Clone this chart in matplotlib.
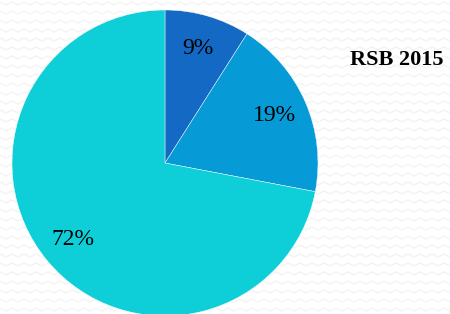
import matplotlib.pyplot as plt
import numpy as np

labels = ["a", "b", "c"]
values = [9, 19, 72]
colors = ["#1469c4", "#069bd6", "#0ecfd8"]
title = "RSB 2015"

plt.rcParams["font.family"] = ["Liberation Serif", "DejaVu Serif"]

fig = plt.figure(figsize=(4.5, 3.14), dpi=100)
fig.patch.set_facecolor("white")

# faint zigzag background
bg = fig.add_axes([0, 0, 1, 1], zorder=0)
bg.set_xlim(0, 450)
bg.set_ylim(314, 0)
bg.axis("off")
xs = np.arange(0, 456, 6)
for row in np.arange(2, 320, 9):
    ys = row + np.where((xs // 6) % 2 == 0, 0, 3)
    bg.plot(xs, ys, color="#f4f4f4", lw=1.1)

# pie: centre (165,163) px, radius 153 px
cx, cy, r = 165, 163, 153
ax = fig.add_axes([(cx - r) / 450, (314 - cy - r) / 314, 2 * r / 450, 2 * r / 314], zorder=1)
wedges, texts, autotexts = ax.pie(
    values,
    colors=colors,
    startangle=90,
    counterclock=False,
    autopct=lambda p: f"{p:.0f}%",
    pctdistance=0.78,
    wedgeprops=dict(edgecolor="white", linewidth=0.3),
    textprops=dict(fontsize=17, color="black"),
)
for w in wedges:
    w.set_clip_on(False)
ax.set_xlim(-1, 1)
ax.set_ylim(-1, 1)
ax.set_aspect("auto")

fig.text(397 / 450, 1 - 60 / 314, title, ha="center", va="center",
         fontsize=16, fontweight="bold", zorder=3)

fig.savefig("out.png", dpi=100)
